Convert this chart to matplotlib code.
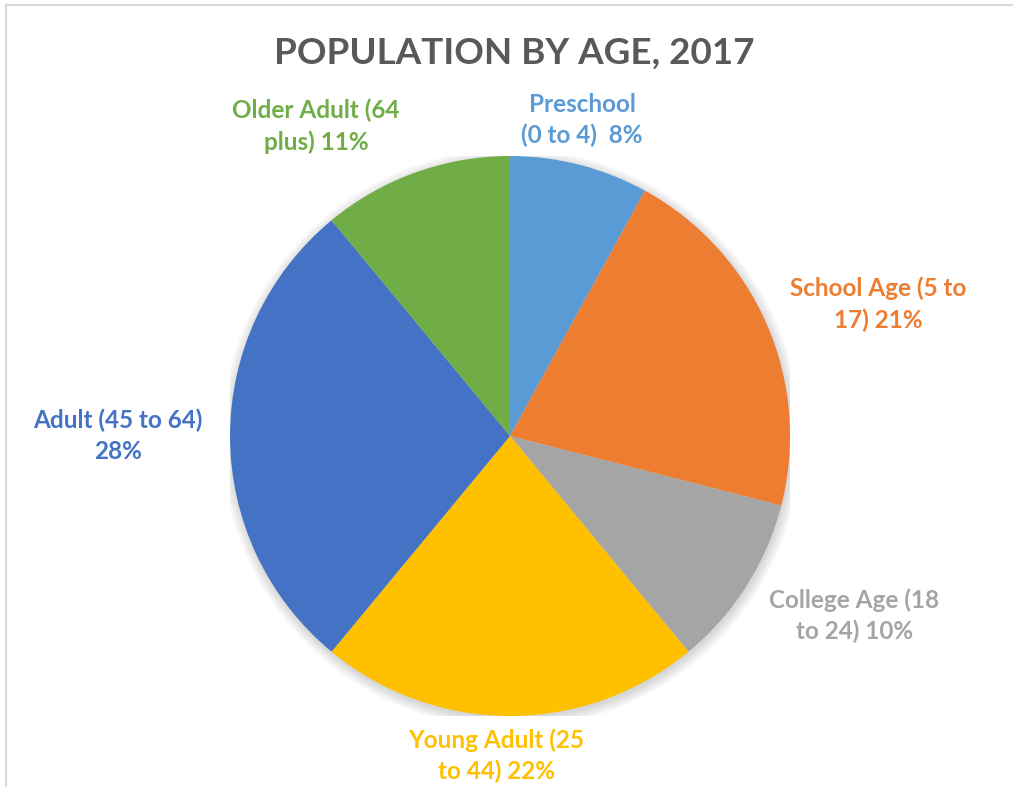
import numpy as np
import matplotlib.pyplot as plt
from matplotlib.patches import Circle
from matplotlib.lines import Line2D

# population shares by age group, 2017
groups = ['Preschool\n(0 to 4)  8%', 'School Age (5 to\n17) 21%', 'College Age (18\nto 24) 10%',
          'Young Adult (25\nto 44) 22%', 'Adult (45 to 64)\n28%', 'Older Adult (64\nplus) 11%']
shares = [8, 21, 10, 22, 28, 11]
colors = ['#5B9BD5', '#ED7D31', '#A5A5A5', '#FFC000', '#4472C4', '#70AD47']

# where each label sits, in pie units (radius = 1)
label_pos = [(0.257, 1.129), (1.314, 0.471), (1.229, -0.643),
             (-0.05, -1.143), (-1.400, 0.0), (-0.693, 1.107)]

fig = plt.figure(figsize=(10.13, 7.87), dpi=100)
fig.patch.set_facecolor('white')

# chart area border (top and left edges)
fig.add_artist(Line2D([6/1013, 1.0], [1 - 5/787, 1 - 5/787], color='#D9D9D9', lw=1.5))
fig.add_artist(Line2D([6/1013, 6/1013], [0.0, 1 - 5/787], color='#D9D9D9', lw=1.5))

ax = fig.add_axes([0.2271, 0.0902, 0.5528, 0.7116])

# soft shadow under the pie
for i in range(10):
    r = 1.0 + 0.004 * i
    ax.add_patch(Circle((0.004, -0.010), r, color='black', alpha=0.015, lw=0, zorder=0))

wedges, _ = ax.pie(shares, colors=colors, startangle=90, counterclock=False,
                   radius=1.0, wedgeprops=dict(linewidth=0))
for w in wedges:
    w.set_zorder(2)

# pie() widens the limits, pull them back to the unit circle
ax.set_xlim(-1, 1)
ax.set_ylim(-1, 1)
ax.set_aspect('equal')
ax.axis('off')

for txt, (x, y), c in zip(groups, label_pos, colors):
    ax.text(x, y, txt, color=c, fontsize=17.5, fontweight='bold', family='Lato',
            ha='center', va='center', linespacing=1.4, clip_on=False)

fig.text(514/1013, 1 - 53/787, 'POPULATION BY AGE, 2017', color='#595959',
         fontsize=26.5, fontweight='bold', family='Lato', ha='center', va='center')

fig.savefig('out.png', dpi=100)
